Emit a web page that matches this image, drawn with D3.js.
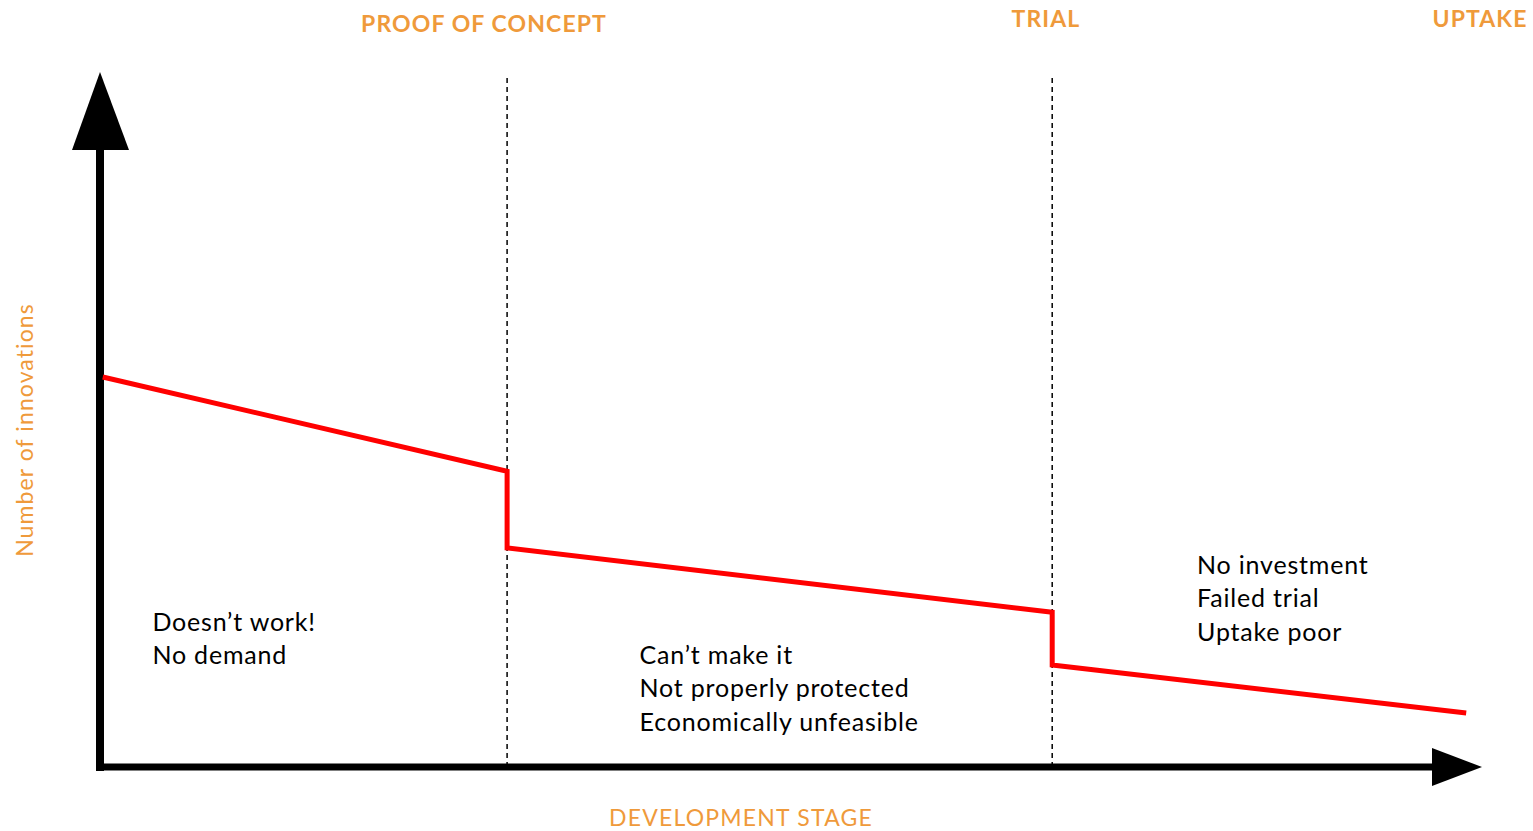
<!DOCTYPE html>
<html><head><meta charset="utf-8">
<script src="https://cdn.jsdelivr.net/npm/d3@7"></script>
<style>body{margin:0;background:#fff}svg{display:block}text{font-family:Lato,"Open Sans",sans-serif}</style>
</head><body>
<script>
// data
const stagePositions = [0, 2, 295, 295, 690, 690, 990];   // x (development progress units 0..1000)
const innovations = [65, 65, 49.3, 36.5, 25.8, 17, 9];
const linePoints = stagePositions.slice(1).map((x,i)=>({x, y: innovations[i+1]}));
const stageBoundaries = [295, 690];
const stageLabels = ["PROOF OF CONCEPT", "TRIAL", "UPTAKE"];
const reasons = [
  ["Doesn\u2019t work!", "No demand"],
  ["Can\u2019t make it", "Not properly protected", "Economically unfeasible"],
  ["No investment", "Failed trial", "Uptake poor"]
];
const reasonX = [38, 391, 795];
const reasonY = [22.7, 17.2, 32.2];

const W = 1533, H = 831;
const orange = "#EF9A3B";
const svg = d3.select("body").append("svg").attr("width", W).attr("height", H);
const x = d3.scaleLinear().domain([0, 1000]).range([100, 1480]);
const y = d3.scaleLinear().domain([0, 100]).range([767, 167]);

// dashed boundaries
svg.selectAll("line.b").data(stageBoundaries).join("line")
  .attr("x1", d=>x(d)).attr("x2", d=>x(d)).attr("y1", 78).attr("y2", 765)
  .attr("stroke", "#000").attr("stroke-width", 1.5).attr("stroke-dasharray", "5,4");

// axes
svg.append("line").attr("x1", 100).attr("x2", 100).attr("y1", 140).attr("y2", 771)
  .attr("stroke", "#000").attr("stroke-width", 8);
svg.append("path").attr("d", "M72,150 L129,150 L100,72 Z").attr("fill", "#000");
svg.append("line").attr("x1", 96).attr("x2", 1440).attr("y1", 767).attr("y2", 767)
  .attr("stroke", "#000").attr("stroke-width", 7);
svg.append("path").attr("d", "M1432,748 L1482,767 L1432,786 Z").attr("fill", "#000");

// red line
const line = d3.line().x(d=>x(d.x)).y(d=>y(d.y));
svg.append("path").datum([{x: stagePositions[1], y: innovations[0]}].concat(linePoints.slice(1)))
  .attr("d", line).attr("fill", "none").attr("stroke", "#FF0000").attr("stroke-width", 5)
  .attr("stroke-linejoin", "miter");

// stage labels
svg.selectAll("text.stage").data(stageLabels).join("text")
  .attr("x", (d,i)=>i===0? 484 : (i===1? 1046 : 1480))
  .attr("y", (d,i)=>i===0?32:27)
  .attr("text-anchor", "middle").attr("fill", orange).attr("font-weight", "bold")
  .attr("font-size", 23).attr("letter-spacing", 1.1).text(d=>d);

// axis titles
svg.append("text").attr("x", 741).attr("y", 826).attr("text-anchor", "middle")
  .attr("fill", orange).attr("font-size", 23).attr("letter-spacing", 1.2).text("DEVELOPMENT STAGE");
svg.append("text").attr("transform", "translate(33,430) rotate(-90)").attr("text-anchor", "middle")
  .attr("fill", orange).attr("font-size", 23).attr("letter-spacing", 1.1).text("Number of innovations");

// reasons
reasons.forEach((lines, i) => {
  const t = svg.append("text").attr("x", x(reasonX[i])).attr("y", y(reasonY[i]))
    .attr("fill", "#000").attr("font-size", 25).attr("letter-spacing", 0.8);
  lines.forEach((l, j) => t.append("tspan").attr("x", x(reasonX[i])).attr("dy", j===0?0:33.5).text(l));
});
</script>
</body></html>
